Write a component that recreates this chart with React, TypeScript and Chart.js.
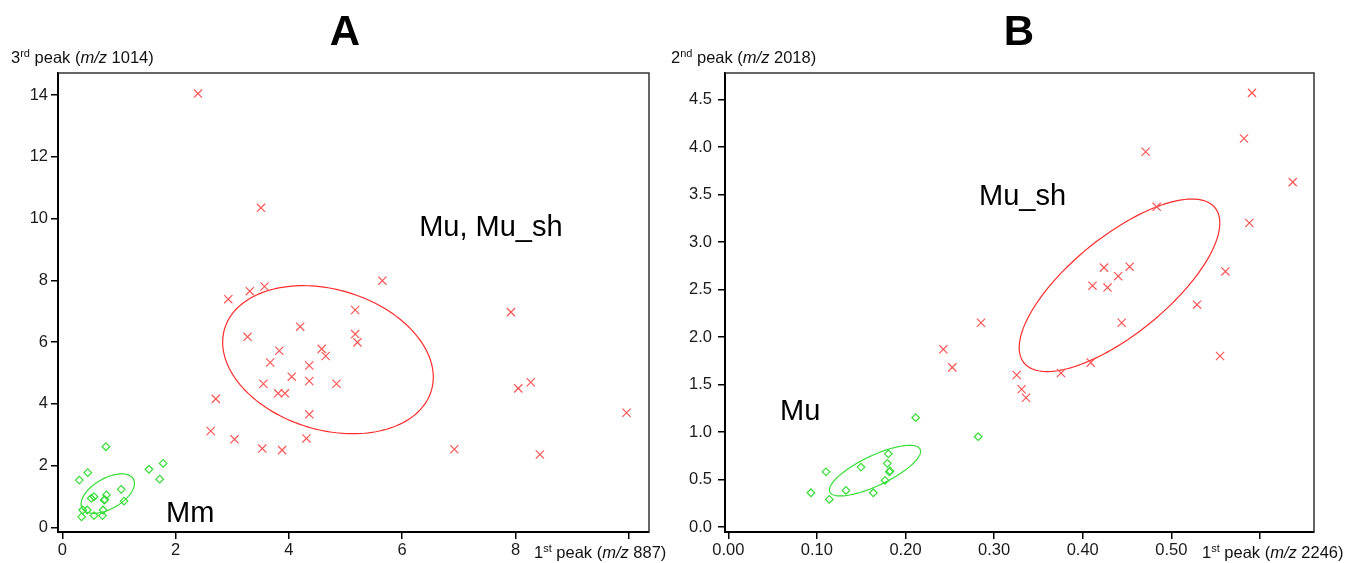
import React, { useEffect, useRef } from "react";
import { Chart, registerables } from "chart.js";
Chart.register(...registerables);

const FONT = '"Liberation Sans", Arial, Helvetica, sans-serif';
const SMALL = 16.5;

// ---------- Panel A data ----------
const aMuX = [2.395, 3.507, 2.93, 3.31, 3.57, 3.27, 4.2, 3.83, 3.67, 4.58, 4.65, 4.36, 4.05, 4.36, 3.55, 4.84, 3.81, 3.93, 2.71, 4.36, 2.62, 3.04, 4.31, 3.53, 3.88, 5.65, 5.17, 5.17, 5.21, 7.92, 8.05, 8.27, 9.96, 6.92, 8.43];
const aMuY = [14.05, 10.35, 7.39, 7.65, 7.8, 6.17, 6.5, 5.72, 5.34, 5.78, 5.55, 5.24, 4.88, 4.74, 4.65, 4.65, 4.34, 4.34, 4.16, 3.66, 3.12, 2.85, 2.88, 2.55, 2.5, 7.99, 7.04, 6.26, 5.99, 6.97, 4.5, 4.7, 3.71, 2.53, 2.36];
const aMmX = [0.3, 0.45, 0.77, 1.53, 1.78, 1.72, 1.04, 0.56, 0.51, 0.78, 0.74, 0.75, 1.09, 0.36, 0.44, 0.72, 0.34, 0.56, 0.71];
const aMmY = [1.53, 1.77, 2.61, 1.88, 2.07, 1.56, 1.23, 0.99, 0.94, 1.05, 0.88, 0.9, 0.85, 0.56, 0.56, 0.56, 0.34, 0.38, 0.38];
const aXTicks = [0, 2, 4, 6, 8, 10];
const aXTickLabels = ["0", "2", "4", "6", "8", ""];
const aYTicks = [0, 2, 4, 6, 8, 10, 12, 14];
const aYTickLabels = ["0", "2", "4", "6", "8", "10", "12", "14"];
const aXRange = [-0.076, 10.357];
const aYRange = [-0.152, 14.717];
// ellipse: center, semi-axis vector a, semi-axis vector b (data units)
const aMuEllipseCenter = [4.69, 5.43];
const aMuEllipseA = [1.859, -0.567];
const aMuEllipseB = [0, 2.33];
const aMmEllipseCenter = [0.803, 1.092];
const aMmEllipseA = [0.471, 0.334];
const aMmEllipseB = [0, 0.544];

// ---------- Panel B data ----------
const bMuX = [0.591, 0.582, 0.471, 0.637, 0.4835, 0.588, 0.561, 0.424, 0.453, 0.44, 0.411, 0.428, 0.529, 0.444, 0.555, 0.409, 0.3755, 0.3255, 0.331, 0.336, 0.2427, 0.2528, 0.2852];
const bMuY = [4.57, 4.09, 3.95, 3.63, 3.37, 3.2, 2.69, 2.73, 2.74, 2.64, 2.54, 2.52, 2.34, 2.15, 1.8, 1.73, 1.62, 1.6, 1.45, 1.36, 1.87, 1.68, 2.15];
const bMmX = [0.2115, 0.282, 0.1806, 0.1795, 0.1498, 0.1103, 0.1817, 0.1825, 0.1769, 0.1328, 0.0933, 0.1637, 0.114];
const bMmY = [1.15, 0.95, 0.77, 0.67, 0.63, 0.58, 0.58, 0.59, 0.49, 0.385, 0.36, 0.36, 0.29];
const bXTicks = [0, 0.1, 0.2, 0.3, 0.4, 0.5, 0.6];
const bXTickLabels = ["0.00", "0.10", "0.20", "0.30", "0.40", "0.50", ""];
const bYTicks = [0, 0.5, 1, 1.5, 2, 2.5, 3, 3.5, 4, 4.5];
const bYTickLabels = ["0.0", "0.5", "1.0", "1.5", "2.0", "2.5", "3.0", "3.5", "4.0", "4.5"];
const bXRange = [-0.0037, 0.661];
const bYRange = [-0.053, 4.779];
const bMuEllipseCenter = [0.4415, 2.544];
const bMuEllipseA = [0.1132, 0.656];
const bMuEllipseB = [0, 0.628];
const bMmEllipseCenter = [0.1656, 0.593];
const bMmEllipseA = [0.0514, 0.203];
const bMmEllipseB = [0, 0.173];

const RED_PT = "#ff5656";
const RED_LINE = "#ff2b2b";
const GREEN_PT = "#36dc36";
const GREEN_LINE = "#33dd33";

type Seg = { t: string; sup?: boolean; it?: boolean };

function drawRich(ctx: CanvasRenderingContext2D, x: number, y: number, segs: Seg[], size: number) {
  let cx = x;
  ctx.textAlign = "left";
  ctx.textBaseline = "alphabetic";
  for (const s of segs) {
    const fs = s.sup ? Math.round(size * 0.64) : size;
    ctx.font = `${s.it ? "italic " : ""}${fs}px ${FONT}`;
    const dy = s.sup ? -size * 0.38 : 0;
    ctx.fillText(s.t, cx, y + dy);
    cx += ctx.measureText(s.t).width;
  }
}

type Ell = { c: number[]; a: number[]; b: number[]; color: string };
type Panel = {
  letter: string;
  letterX: number;
  yTitle: Seg[];
  yTitlePos: number[];
  xTitle: Seg[];
  xTitlePos: number[];
  notes: { text: string; x: number; y: number }[];
  ellipses: Ell[];
};

function makePlugin(p: Panel) {
  return {
    id: "panel" + p.letter,
    beforeDatasetsDraw(chart: any) {
      const ctx = chart.ctx as CanvasRenderingContext2D;
      const { left, right, top, bottom } = chart.chartArea;
      ctx.save();
      ctx.strokeStyle = "#333";
      ctx.lineWidth = 1.5;
      ctx.beginPath();
      ctx.moveTo(left, top);
      ctx.lineTo(right, top);
      ctx.lineTo(right, bottom);
      ctx.stroke();
      const xs = chart.scales.x;
      const ys = chart.scales.y;
      for (const e of p.ellipses) {
        ctx.strokeStyle = e.color;
        ctx.lineWidth = 1.2;
        ctx.beginPath();
        const n = 160;
        for (let i = 0; i <= n; i++) {
          const t = (i / n) * Math.PI * 2;
          const dx = e.c[0] + e.a[0] * Math.cos(t) + e.b[0] * Math.sin(t);
          const dy = e.c[1] + e.a[1] * Math.cos(t) + e.b[1] * Math.sin(t);
          const px = xs.getPixelForValue(dx);
          const py = ys.getPixelForValue(dy);
          if (i === 0) ctx.moveTo(px, py);
          else ctx.lineTo(px, py);
        }
        ctx.closePath();
        ctx.stroke();
      }
      ctx.restore();
    },
    afterDraw(chart: any) {
      const ctx = chart.ctx as CanvasRenderingContext2D;
      const xs = chart.scales.x;
      const ys = chart.scales.y;
      ctx.save();
      ctx.fillStyle = "#000";
      ctx.font = `bold 42px ${FONT}`;
      ctx.textAlign = "center";
      ctx.textBaseline = "alphabetic";
      ctx.fillText(p.letter, p.letterX, 45);
      ctx.fillStyle = "#111";
      drawRich(ctx, p.yTitlePos[0], p.yTitlePos[1], p.yTitle, SMALL);
      drawRich(ctx, p.xTitlePos[0], p.xTitlePos[1], p.xTitle, SMALL);
      ctx.fillStyle = "#000";
      ctx.font = `29px ${FONT}`;
      ctx.textAlign = "left";
      for (const n of p.notes) {
        ctx.fillText(n.text, xs.getPixelForValue(n.x), ys.getPixelForValue(n.y));
      }
      ctx.restore();
    },
  };
}

function makeConfig(opts: {
  muX: number[]; muY: number[]; mmX: number[]; mmY: number[];
  xTicks: number[]; xLabels: string[]; yTicks: number[]; yLabels: string[];
  xRange: number[]; yRange: number[];
  padLeft: number; padRight: number; yLabelPad: number;
  panel: Panel;
}) {
  const mu = opts.muX.map((x, i) => ({ x, y: opts.muY[i] }));
  const mm = opts.mmX.map((x, i) => ({ x, y: opts.mmY[i] }));
  const tickFont = { family: FONT, size: SMALL };
  return {
    type: "scatter",
    data: {
      datasets: [
        {
          data: mu,
          pointStyle: "crossRot",
          pointRadius: 5.8,
          borderColor: RED_PT,
          backgroundColor: "transparent",
          pointBorderWidth: 1.2,
        },
        {
          data: mm,
          pointStyle: "rectRot",
          pointRadius: 3.8,
          borderColor: GREEN_PT,
          backgroundColor: "transparent",
          pointBorderWidth: 1.2,
        },
      ],
    },
    options: {
      animation: false,
      responsive: false,
      maintainAspectRatio: false,
      events: [],
      layout: { padding: { left: opts.padLeft, right: opts.padRight, top: 73, bottom: 0 } },
      plugins: { legend: { display: false }, tooltip: { enabled: false }, title: { display: false } },
      scales: {
        x: {
          type: "linear",
          min: opts.xRange[0],
          max: opts.xRange[1],
          afterFit: (s: any) => { s.height = 31; },
          afterBuildTicks: (s: any) => { s.ticks = opts.xTicks.map((v) => ({ value: v })); },
          ticks: {
            autoSkip: false,
            maxRotation: 0,
            padding: 2,
            color: "#1a1a1a",
            font: tickFont,
            callback: (v: any) => {
              const i = opts.xTicks.indexOf(Number(v));
              return i >= 0 ? opts.xLabels[i] : "";
            },
          },
          grid: { drawOnChartArea: false, drawTicks: true, tickLength: 7, color: "#000", lineWidth: 1.5 },
          border: { display: true, color: "#000", width: 2 },
        },
        y: {
          type: "linear",
          min: opts.yRange[0],
          max: opts.yRange[1],
          afterFit: (s: any) => { s.width = 50; },
          afterBuildTicks: (s: any) => { s.ticks = opts.yTicks.map((v) => ({ value: v })); },
          ticks: {
            autoSkip: false,
            padding: opts.yLabelPad,
            color: "#1a1a1a",
            font: tickFont,
            callback: (v: any) => {
              const i = opts.yTicks.indexOf(Number(v));
              return i >= 0 ? opts.yLabels[i] : "";
            },
          },
          grid: { drawOnChartArea: false, drawTicks: true, tickLength: 7, color: "#000", lineWidth: 1.5 },
          border: { display: true, color: "#000", width: 2 },
        },
      },
    },
    plugins: [makePlugin(opts.panel)],
  } as any;
}

const panelA: Panel = {
  letter: "A",
  letterX: 345,
  yTitle: [{ t: "3" }, { t: "rd", sup: true }, { t: " peak (" }, { t: "m/z", it: true }, { t: " 1014)" }],
  yTitlePos: [11, 63],
  xTitle: [{ t: "1" }, { t: "st", sup: true }, { t: " peak (" }, { t: "m/z", it: true }, { t: " 887)" }],
  xTitlePos: [534, 558],
  notes: [
    { text: "Mu, Mu_sh", x: 6.3, y: 9.45 },
    { text: "Mm", x: 1.83, y: 0.16 },
  ],
  ellipses: [
    { c: aMuEllipseCenter, a: aMuEllipseA, b: aMuEllipseB, color: RED_LINE },
    { c: aMmEllipseCenter, a: aMmEllipseA, b: aMmEllipseB, color: GREEN_LINE },
  ],
};

const panelB: Panel = {
  letter: "B",
  letterX: 1019,
  yTitle: [{ t: "2" }, { t: "nd", sup: true }, { t: " peak (" }, { t: "m/z", it: true }, { t: " 2018)" }],
  yTitlePos: [671, 63],
  xTitle: [{ t: "1" }, { t: "st", sup: true }, { t: " peak (" }, { t: "m/z", it: true }, { t: " 2246)" }],
  xTitlePos: [1202, 558],
  notes: [
    { text: "Mu", x: 0.0584, y: 1.13 },
    { text: "Mu_sh", x: 0.283, y: 3.39 },
  ],
  ellipses: [
    { c: bMuEllipseCenter, a: bMuEllipseA, b: bMuEllipseB, color: RED_LINE },
    { c: bMmEllipseCenter, a: bMmEllipseA, b: bMmEllipseB, color: GREEN_LINE },
  ],
};

export default function App() {
  const refA = useRef<HTMLCanvasElement>(null);
  const refB = useRef<HTMLCanvasElement>(null);
  useEffect(() => {
    document.body.style.margin = "0";
    const ca = new Chart(
      refA.current!,
      makeConfig({
        muX: aMuX, muY: aMuY, mmX: aMmX, mmY: aMmY,
        xTicks: aXTicks, xLabels: aXTickLabels, yTicks: aYTicks, yLabels: aYTickLabels,
        xRange: aXRange, yRange: aYRange,
        padLeft: 8, padRight: 1349 - 649, yLabelPad: 3,
        panel: panelA,
      })
    );
    const cb = new Chart(
      refB.current!,
      makeConfig({
        muX: bMuX, muY: bMuY, mmX: bMmX, mmY: bMmY,
        xTicks: bXTicks, xLabels: bXTickLabels, yTicks: bYTicks, yLabels: bYTickLabels,
        xRange: bXRange, yRange: bYRange,
        padLeft: 675, padRight: 1349 - 1314, yLabelPad: 6,
        panel: panelB,
      })
    );
    return () => {
      ca.destroy();
      cb.destroy();
    };
  }, []);
  const style: React.CSSProperties = { position: "absolute", left: 0, top: 0, width: 1349, height: 563 };
  return (
    <div style={{ position: "relative", width: 1349, height: 563, background: "#fff" }}>
      <canvas ref={refA} width={1349} height={563} style={style} />
      <canvas ref={refB} width={1349} height={563} style={style} />
    </div>
  );
}
